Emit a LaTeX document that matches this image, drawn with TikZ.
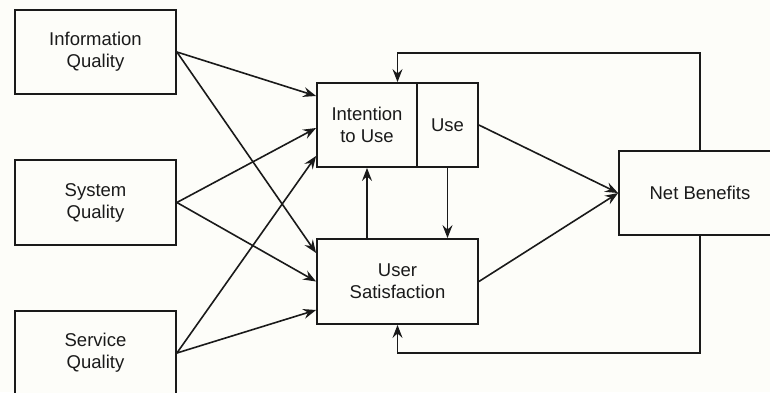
\documentclass[tikz,border=0pt]{standalone}
\usepackage{fontspec}
\setmainfont{Liberation Sans}
\usetikzlibrary{arrows.meta}
\definecolor{paper}{HTML}{FDFDF9}
\definecolor{ink}{HTML}{1A1A1A}
\tikzset{
  box/.style={draw=ink, line width=1.8pt, fill=paper, rectangle, inner sep=0pt,
              align=center, text=ink, font=\fontsize{18.5}{22}\selectfont},
  arr/.style={draw=ink, line width=1.6pt,
              -{Stealth[length=13pt, width=10pt, inset=4.5pt]}},
}
\begin{document}
\begin{tikzpicture}[x=1pt, y=-1pt]
  \fill[paper] (0,0) rectangle (770,392);
  \useasboundingbox (0,0) rectangle (770,392);
  \clip (0,0) rectangle (770,392);

  % quality dimensions
  \node[box, minimum width=161pt, minimum height=84pt] (info) at (95.5,52)   {Information\\Quality};
  \node[box, minimum width=161pt, minimum height=85pt] (sys)  at (95.5,202.5){System\\Quality};
  \node[box, minimum width=161pt, minimum height=84pt] (serv) at (95.5,353)  {Service\\Quality};

  % use, satisfaction and benefits
  \node[box, minimum width=100pt, minimum height=84pt] (iu)  at (367,125)   {Intention\\to Use};
  \node[box, minimum width=61pt,  minimum height=84pt] (use) at (447.5,125) {Use};
  \node[box, minimum width=161pt, minimum height=85pt] (us)  at (397.5,281.5) {User\\Satisfaction};
  \node[box, minimum width=162pt, minimum height=84pt] (nb)  at (700,193)   {Net Benefits};

  % quality -> intention to use
  \draw[arr] (info.east) -- ([yshift=29pt]iu.west);
  \draw[arr] (sys.east)  -- ([yshift=-3pt]iu.west);
  \draw[arr] (serv.east) -- ([yshift=-31pt]iu.west);
  % quality -> user satisfaction
  \draw[arr] (info.east) -- ([yshift=28.5pt]us.west);
  \draw[arr] (sys.east)  -- (us.west);
  \draw[arr] (serv.east) -- ([yshift=-28.5pt]us.west);

  % between use and satisfaction
  \draw[arr] (iu.south |- us.north) -- (iu.south);
  \draw[arr] (use.south) -- (use.south |- us.north);

  % towards net benefits
  \draw[arr] (use.east) -- (nb.west);
  \draw[arr] (us.east)  -- (nb.west);

  % feedback loops
  \coordinate (fbtop) at (397.5,53);
  \coordinate (fbbot) at (397.5,353);
  \draw[arr] (nb.north) |- (fbtop) -- (fbtop |- iu.north);
  \draw[arr] (nb.south) |- (fbbot) -- (fbbot |- us.south);
\end{tikzpicture}
\end{document}
